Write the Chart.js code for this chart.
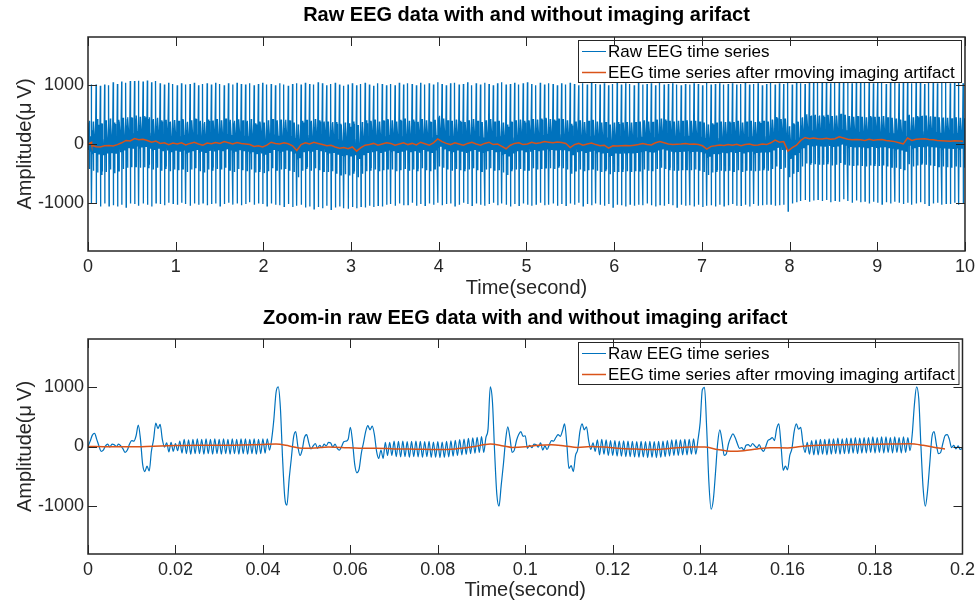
<!DOCTYPE html>
<html>
<head>
<meta charset="utf-8">
<script src="https://cdn.jsdelivr.net/npm/chart.js@4.4.1/dist/chart.umd.min.js"></script>
<style>
  html, body { margin: 0; padding: 0; background: #fff; }
  #wrap { position: relative; width: 980px; height: 602px; }
  canvas { position: absolute; left: 0; }
  #full { top: 0; }
  #zoom { top: 300px; }
</style>
</head>
<body>
<div id="wrap">
  <canvas id="full" width="980" height="300"></canvas>
  <canvas id="zoom" width="980" height="302"></canvas>
</div>
<script>
// Tick labels
const fullTimeTicks = [0, 1, 2, 3, 4, 5, 6, 7, 8, 9, 10];
const zoomTimeTicks = [0, 0.02, 0.04, 0.06, 0.08, 0.1, 0.12, 0.14, 0.16, 0.18, 0.2];
const amplitudeTicks = [-1000, 0, 1000];
const legendLabels = ["Raw EEG time series", "EEG time series after rmoving imaging artifact"];

// Zoom-in raw EEG, one sample every 0.5 ms from 0 to 0.2 s
const zoomSampleStep = 0.0005;
const zoomRaw = [
  0, 90, 190, 220, 120, 10, -80, -60, 10, 40, -10, 40, 30, 0, 40, 10, -40, -100, -60, 40,
  100, 90, 180, 360, 120, -300, -420, -330, -410, -80, 120, 390, 300, 370, 120, -10, 60, -90, 70, -80,
  50, -70, 90, -110, 120, -120, 110, -130, 120, -120, 130, -120, 120, -130, 130, -120, 120, -130, 130, -120,
  120, -130, 130, -120, 120, -130, 130, -120, 120, -130, 130, -120, 130, -130, 120, -120, 130, -130, 120, -120,
  130, -110, 130, -60, 120, 450, 900, 1000, 650, -200, -850, -980, -550, -200, 150, 250, 0, -150, -50, 150,
  200, 60, -40, 10, 50, -30, 20, -20, 40, 10, 70, 60, -10, 40, -30, -60, 0, 80, 90, 120,
  320, 80, -300, -440, -380, -120, 60, 250, 350, 280, 340, 200, -80, -200, -60, -200, 70, -150, 70, -150,
  90, -170, 85, -175, 90, -170, 80, -180, 85, -170, 90, -175, 85, -180, 80, -170, 85, -180, 75, -180,
  80, -185, 75, -180, 85, -175, 95, -160, 105, -150, 115, -140, 125, -130, 135, -120, 145, -110, 155, -100,
  165, -100, 150, 300, 1000, 750, -100, -800, -1000, -650, -300, 100, 330, 150, -100, -60, 100, 200, 250, 170,
  180, -30, 20, -20, 40, 30, -10, 60, -60, 10, -50, 30, 100, 90, 150, 200, 170, 260, 380, 50,
  -370, -320, -420, -150, -50, 250, 380, 280, 330, 100, -50, 60, -80, 110, -140, 120, -130, 110, -150, 100,
  -150, 100, -160, 90, -160, 95, -170, 90, -170, 85, -175, 80, -180, 85, -175, 80, -185, 85, -180, 80,
  -185, 85, -180, 90, -170, 100, -160, 110, -150, 115, -150, 110, -140, 120, -140, 120, -130, 130, -130, 110,
  400, 950, 990, 300, -600, -1050, -900, -450, 50, 280, 100, -150, -120, 50, 150, 210, 150, 50, -30, -20,
  -60, 20, 30, 0, 50, 10, -20, 30, -40, -80, 0, 100, 120, 150, 100, 300, 380, 20, -400, -330,
  -390, -150, -30, 250, 380, 290, 320, 60, -100, 70, -130, 100, -140, 110, -140, 120, -130, 120, -140, 130,
  -130, 130, -120, 140, -130, 130, -120, 140, -120, 140, -110, 150, -120, 140, -110, 150, -110, 150, -100, 160,
  -110, 150, -100, 160, -110, 160, -100, 150, -110, 160, -100, 150, -110, 160, -100, 150, -70, 200, 700, 1000,
  800, 0, -700, -1000, -750, -300, 150, 250, 50, -120, -100, 50, 180, 200, 120, -20, 20, -40, 10, -50,
  -30
];

// Zoom-in EEG after artifact removal
const zoomFilteredMs = [0, 5, 10, 15, 20, 25, 30, 35, 40, 43, 46, 49, 52, 55, 58, 62, 66, 70, 75, 80, 84, 88, 92, 95, 97,
  100, 103, 106, 109, 112, 115, 118, 122, 126, 130, 134, 138, 141, 144, 147, 150, 153, 156, 160, 163, 167, 172, 178, 184, 188, 191, 194, 196];
const zoomFiltered = [0, -5, -5, 5, 15, 20, 20, 25, 35, 40, 10, -30, -25, -10, -15, -30, -30, -40, -45, -50, -40, -5, 40, 10, -15,
  -5, 20, 30, 10, -15, 0, -10, -35, -45, -50, -25, -10, -10, -50, -80, -70, -40, -20, -25, 0, 20, 30, 35, 40, 45, 20, -20, -40];

// Full 10 s record: one gradient artifact spike every 48.7 ms
const firstSpike = 0.0434;
const spikePeriod = 0.0487;
const topPeak = [
  1000, 1000, 980, 1000, 990, 1040, 1010, 1050, 1030, 1060,
  1060, 1065, 1050, 1070, 1040, 1060, 1020, 1000, 1030, 1010,
  990, 1020, 1000, 1010, 1030, 990, 1010, 1020, 1000, 1030,
  1010, 990, 1020, 1000, 1030, 1010, 1000, 1020, 990, 1010,
  1030, 1000, 1010, 990, 1020, 1000, 980, 1010, 1020, 1000,
  1030, 1010, 1000, 1040, 1020, 990, 1010, 1030, 1000, 980,
  1000, 1020, 990, 1010, 1030, 1000, 980, 1020, 1010, 990,
  1010, 990, 1030, 1000, 1020, 1010, 990, 1030, 1000, 1020,
  1000, 1040, 1010, 990, 1020, 1030, 1000, 1010, 1040, 990,
  1020, 1000, 1030, 1010, 990, 1020, 1040, 1000, 1010, 1030,
  1000, 1020, 1040, 1010, 990, 1030, 1000, 1020, 1010, 990,
  1020, 1000, 1030, 1010, 990, 1020, 1000, 1040, 1010, 1000,
  1020, 990, 1010, 1030, 1000, 1020, 1010, 990, 1030, 1000,
  1010, 1020, 990, 1030, 1000, 1010, 1020, 1000, 990, 1010,
  1000, 1020, 1010, 990, 1030, 1000, 1010, 1020, 1000, 1010,
  1020, 1000, 1010, 1030, 1000, 1010, 1020, 990, 1010, 1030,
  1000, 1020, 1010, 1040, 1000, 1030, 1020, 1010, 1030, 1040,
  1030, 1050, 1040, 1020, 1060, 1030, 1050, 1040, 1020, 1050,
  1040, 1030, 1050, 1020, 1040, 1030, 1010, 1040, 1030, 1020,
  1030, 1040, 1020, 1050, 1030, 1010, 1040, 1030, 1020, 1040,
  1030, 1020, 1040, 1030, 1020
];
const topTrough = [
  -1000, -1000, -1050, -1000, -1040, -1030, -1050, -1020, -1060, -1000,
  -1010, -1040, -1000, -1020, -1050, -990, -1010, -1030, -990, -1000,
  -1020, -990, -1010, -1040, -1000, -1020, -990, -1030, -1010, -1000,
  -1040, -1010, -990, -1020, -1000, -1030, -1010, -980, -1020, -1000,
  -1010, -1040, -1000, -1020, -1030, -1050, -1010, -1060, -1040, -1020,
  -1070, -1050, -1090, -1060, -1080, -1040, -1100, -1070, -1050, -1080,
  -1090, -1060, -1080, -1050, -1070, -1040, -1060, -1030, -1050, -1020,
  -1010, -1040, -1000, -1030, -1020, -990, -1040, -1010, -1030, -1000,
  -1020, -990, -1030, -1010, -1000, -1040, -1020, -990, -1010, -1030,
  -1000, -1020, -1040, -1010, -990, -1030, -1000, -1020, -1050, -1010,
  -1030, -1000, -1020, -1040, -1010, -990, -1030, -1020, -1000, -1040,
  -1010, -1030, -1000, -1020, -990, -1040, -1010, -1030, -1000, -1020,
  -1040, -1010, -1060, -1020, -1030, -1050, -1010, -1040, -1020, -1030,
  -1000, -1030, -1050, -1020, -1040, -1010, -1030, -1060, -1020, -1040,
  -1030, -1050, -1020, -1060, -1040, -1030, -1050, -1020, -1040, -1030,
  -1010, -1040, -1030, -1020, -1050, -1010, -1040, -1030, -1020, -1010,
  -1040, -1030, -1020, -1130, -1000, -980, -960, -940, -970, -950,
  -930, -960, -940, -980, -950, -970, -930, -960, -990, -950,
  -980, -960, -1000, -970, -990, -1010, -980, -1000, -970, -990,
  -1010, -990, -1020, -1000, -980, -1010, -1030, -1000, -990, -1020,
  -1000, -1010, -990, -1020, -1000
];
const topBandHi = [
  380, 420, 350, 400, 430, 360, 410, 440, 420, 450,
  430, 460, 440, 420, 400, 430, 380, 410, 370, 400,
  390, 420, 360, 400, 430, 380, 350, 410, 390, 420,
  400, 430, 380, 360, 410, 390, 370, 420, 350, 380,
  360, 400, 420, 390, 410, 380, 400, 360, 330, 390,
  410, 380, 420, 390, 360, 380, 350, 370, 340, 360,
  350, 380, 320, 370, 400, 390, 410, 380, 400, 420,
  400, 380, 410, 430, 390, 410, 370, 420, 400, 380,
  410, 450, 430, 400, 390, 410, 380, 370, 400, 420,
  390, 370, 400, 420, 380, 390, 360, 330, 380, 400,
  410, 390, 400, 420, 410, 430, 440, 420, 410, 430,
  420, 400, 340, 380, 400, 370, 390, 410, 380, 360,
  370, 330, 360, 370, 360, 370, 360, 370, 380, 400,
  380, 370, 410, 430, 410, 390, 380, 390, 390, 400,
  390, 390, 380, 360, 330, 350, 360, 380, 370, 380,
  370, 390, 360, 380, 390, 370, 380, 390, 380, 410,
  450, 420, 430, 300, 350, 380, 440, 480, 470, 480,
  470, 480, 490, 470, 480, 500, 490, 470, 460, 470,
  460, 450, 470, 460, 460, 470, 450, 440, 430, 410,
  390, 480, 450, 470, 470, 480, 460, 460, 450, 440,
  440, 430, 450, 440, 430
];
const topBandLo = [
  -450, -480, -520, -470, -430, -490, -450, -420, -400, -390,
  -380, -400, -390, -410, -430, -400, -450, -420, -460, -430,
  -440, -420, -470, -430, -410, -460, -480, -430, -450, -420,
  -430, -400, -440, -470, -420, -440, -460, -430, -480, -470,
  -490, -460, -410, -440, -430, -420, -450, -470, -560, -450,
  -420, -450, -410, -440, -460, -470, -460, -500, -520, -510,
  -530, -500, -560, -500, -460, -450, -430, -460, -440, -420,
  -430, -460, -440, -420, -450, -430, -460, -410, -440, -460,
  -420, -380, -400, -430, -450, -420, -440, -460, -430, -410,
  -440, -460, -430, -410, -450, -440, -480, -520, -460, -430,
  -420, -450, -440, -410, -430, -420, -400, -410, -420, -400,
  -410, -430, -500, -450, -430, -460, -440, -420, -450, -470,
  -460, -510, -470, -470, -470, -460, -470, -460, -450, -430,
  -450, -460, -420, -400, -420, -440, -450, -450, -440, -430,
  -440, -430, -450, -470, -520, -480, -470, -450, -460, -450,
  -460, -440, -470, -450, -440, -460, -450, -440, -450, -420,
  -380, -410, -400, -560, -500, -460, -380, -330, -350, -340,
  -350, -350, -340, -360, -350, -320, -340, -360, -370, -360,
  -370, -380, -360, -370, -370, -360, -380, -390, -400, -420,
  -440, -340, -380, -360, -350, -350, -360, -370, -380, -380,
  -390, -400, -380, -390, -400
];
const topFiltered = [
  -20, -45, -50, -30, -25, -35, -10, 20, 60, 50,
  90, 70, 80, 60, 30, 50, 10, 20, -10, 15,
  0, 20, -15, 10, 30, 0, -20, 15, 5, 25,
  10, 40, 20, 0, 25, 10, 0, -10, -40, -30,
  -50, -20, 30, 10, 0, 20, 5, -30, -110, -10,
  20, 0, 30, 10, -10, -30, -20, -50, -70, -60,
  -80, -50, -120, -60, -20, -10, 10, -20, 0, 20,
  10, -20, 0, 20, -10, 10, -15, 30, 5, -20,
  20, 85, 40, 10, -10, 20, 0, -20, 10, 30,
  0, -20, 10, 30, -10, 0, -40, -80, -20, 10,
  20, -10, 0, 30, 10, 20, 40, 30, 20, 35,
  25, 10, -60, -10, 10, -20, 0, 15, -10, -30,
  -20, -70, -30, -35, -30, -25, -30, -20, -10, 10,
  -10, -15, 20, 40, 20, 0, -10, -5, 0, 10,
  -5, 0, -10, -30, -85, -40, -30, -15, -25, -10,
  -20, -5, -30, -10, 0, -20, -15, 0, -10, 20,
  65, 30, 40, -120, -60, -20, 60, 110, 90, 100,
  90, 85, 95, 80, 90, 120, 100, 80, 70, 75,
  70, 60, 80, 65, 70, 75, 60, 50, 40, 20,
  0, 100, 60, 80, 85, 90, 75, 70, 60, 55,
  50, 45, 55, 50, 45
];
// swings after each spike (seconds after the spike, level above the filtered trace)
const echoTimes = [0.0039, 0.0050, 0.0186, 0.0192, 0.0208, 0.0216, 0.0222, 0.0300, 0.0305, 0.0400, 0.0405];
const echoLevels = [250, -150, -330, -400, 390, 300, 370, 130, -130, 130, -130];
const bandTimes = [0.0167, 0.0180];

const rawColor = "#0072BD";
const filteredColor = "#D95319";
const axisColor = "#262626";
const fontFamily = '"Liberation Sans", Arial, sans-serif';
Chart.defaults.font.family = fontFamily;

// build the full-record raw trace: first samples from the zoom record, then one artifact cycle per spike
const fullRaw = [];
zoomRaw.forEach((v, i) => {
    if (i * zoomSampleStep < firstSpike - 0.001) fullRaw.push({ x: i * zoomSampleStep, y: v });
});
topPeak.forEach((peak, k) => {
    const s = firstSpike + k * spikePeriod;
    const b = topFiltered[k];
    fullRaw.push({ x: s, y: peak }, { x: s + 0.0019, y: topTrough[k] });
    fullRaw.push({ x: s + echoTimes[0], y: b + echoLevels[0] }, { x: s + echoTimes[1], y: b + echoLevels[1] });
    fullRaw.push({ x: s + bandTimes[0], y: topBandHi[k] }, { x: s + bandTimes[1], y: topBandLo[k] });
    for (let j = 2; j < echoTimes.length; j++) fullRaw.push({ x: s + echoTimes[j], y: b + echoLevels[j] });
});

const fullFiltered = [];
zoomFilteredMs.forEach((ms, i) => {
    if (ms / 1000 < firstSpike) fullFiltered.push({ x: ms / 1000, y: zoomFiltered[i] });
});
topFiltered.forEach((v, k) => fullFiltered.push({ x: firstSpike + k * spikePeriod, y: v }));

const zoomRawPoints = zoomRaw.map((v, i) => ({ x: i * zoomSampleStep, y: v }));
const zoomFilteredPoints = zoomFilteredMs.map((ms, i) => ({ x: ms / 1000, y: zoomFiltered[i] }));

// MATLAB style box, inward ticks, legend and title
const matlabFrame = {
    id: "matlabFrame",
    afterDatasetsDraw(chart, args, opts) {
        const { ctx, chartArea: a, scales } = chart;
        ctx.save();

        // legend box in the top right corner
        const lx = a.left + 490, ly = a.top + 3, lw = a.right - 3 - lx, lh = 43;
        ctx.fillStyle = "#fff";
        ctx.fillRect(lx, ly, lw, lh);
        ctx.strokeStyle = axisColor;
        ctx.lineWidth = 1;
        ctx.strokeRect(lx + 0.5, ly + 0.5, lw - 1, lh - 1);
        [rawColor, filteredColor].forEach((c, i) => {
            const y = ly + 11.5 + i * 21;
            ctx.strokeStyle = c;
            ctx.lineWidth = i ? 1.5 : 1;
            ctx.beginPath();
            ctx.moveTo(lx + 4, y);
            ctx.lineTo(lx + 28, y);
            ctx.stroke();
            ctx.fillStyle = "#000";
            ctx.font = "17px " + fontFamily;
            ctx.textAlign = "left";
            ctx.textBaseline = "middle";
            ctx.fillText(legendLabels[i], lx + 30, y + 1);
        });

        // box and inward ticks
        ctx.strokeStyle = axisColor;
        ctx.lineWidth = 1.5;
        ctx.strokeRect(a.left, a.top, a.right - a.left, a.bottom - a.top);
        ctx.lineWidth = 1;
        ctx.beginPath();
        scales.x.ticks.forEach(t => {
            const px = Math.round(scales.x.getPixelForValue(t.value)) + 0.5;
            ctx.moveTo(px, a.bottom); ctx.lineTo(px, a.bottom - 9);
            ctx.moveTo(px, a.top); ctx.lineTo(px, a.top + 9);
        });
        scales.y.ticks.forEach(t => {
            const py = Math.round(scales.y.getPixelForValue(t.value)) + 0.5;
            ctx.moveTo(a.left, py); ctx.lineTo(a.left + 9, py);
            ctx.moveTo(a.right, py); ctx.lineTo(a.right - 9, py);
        });
        ctx.stroke();

        // title centred over the axes
        ctx.fillStyle = "#000";
        ctx.font = "bold 20px " + fontFamily;
        ctx.textAlign = "center";
        ctx.textBaseline = "middle";
        ctx.fillText(opts.title, (a.left + a.right) / 2, opts.titleY);
        ctx.restore();
    }
};

function makeChart(canvasId, rawData, filteredData, xMax, xTicks, title, titleY, padTop, xAxisHeight, smooth, rawWidth) {
    return new Chart(document.getElementById(canvasId), {
        type: "line",
        data: {
            datasets: [
                {
                    data: rawData, borderColor: rawColor, borderWidth: rawWidth, pointRadius: 0,
                    tension: 0, cubicInterpolationMode: smooth ? "monotone" : "default", order: 1
                },
                {
                    data: filteredData, borderColor: filteredColor, borderWidth: 1.5, pointRadius: 0,
                    tension: 0, cubicInterpolationMode: smooth ? "monotone" : "default", order: 0
                }
            ]
        },
        options: {
            responsive: false,
            animation: false,
            events: [],
            parsing: false,
            layout: { padding: { top: padTop, right: 14, left: 0, bottom: 0 } },
            plugins: {
                legend: { display: false },
                tooltip: { enabled: false },
                matlabFrame: { title: title, titleY: titleY }
            },
            scales: {
                x: {
                    type: "linear", min: 0, max: xMax,
                    afterBuildTicks: s => { s.ticks = xTicks.map(v => ({ value: v })); },
                    afterFit: s => { s.height = xAxisHeight; },
                    grid: { display: false, drawTicks: false },
                    border: { display: false },
                    ticks: { color: axisColor, font: { size: 18 }, padding: 5, maxRotation: 0, autoSkip: false, callback: v => String(v) },
                    title: { display: true, text: "Time(second)", color: axisColor, font: { size: 20 }, padding: { top: 0, bottom: 0 } }
                },
                y: {
                    type: "linear", min: -1800, max: 1800,
                    afterBuildTicks: s => { s.ticks = amplitudeTicks.map(v => ({ value: v })); },
                    afterFit: s => { s.width = 88; },
                    grid: { display: false, drawTicks: false },
                    border: { display: false },
                    ticks: { color: axisColor, font: { size: 18 }, padding: 4, autoSkip: false, callback: v => String(v) },
                    title: { display: true, text: "Amplitude(\u03bc\u2009V)", color: axisColor, font: { size: 20 }, padding: { top: 13, bottom: 0 } }
                }
            }
        },
        plugins: [matlabFrame]
    });
}

makeChart("full", fullRaw, fullFiltered, 10, fullTimeTicks,
    "Raw EEG data with and without imaging arifact", 15, 37, 49, false, 1.3);
makeChart("zoom", zoomRawPoints, zoomFilteredPoints, 0.2, zoomTimeTicks,
    "Zoom-in raw EEG data with and without imaging arifact", 18.5, 39, 48, true, 1.2);
</script>
</body>
</html>
